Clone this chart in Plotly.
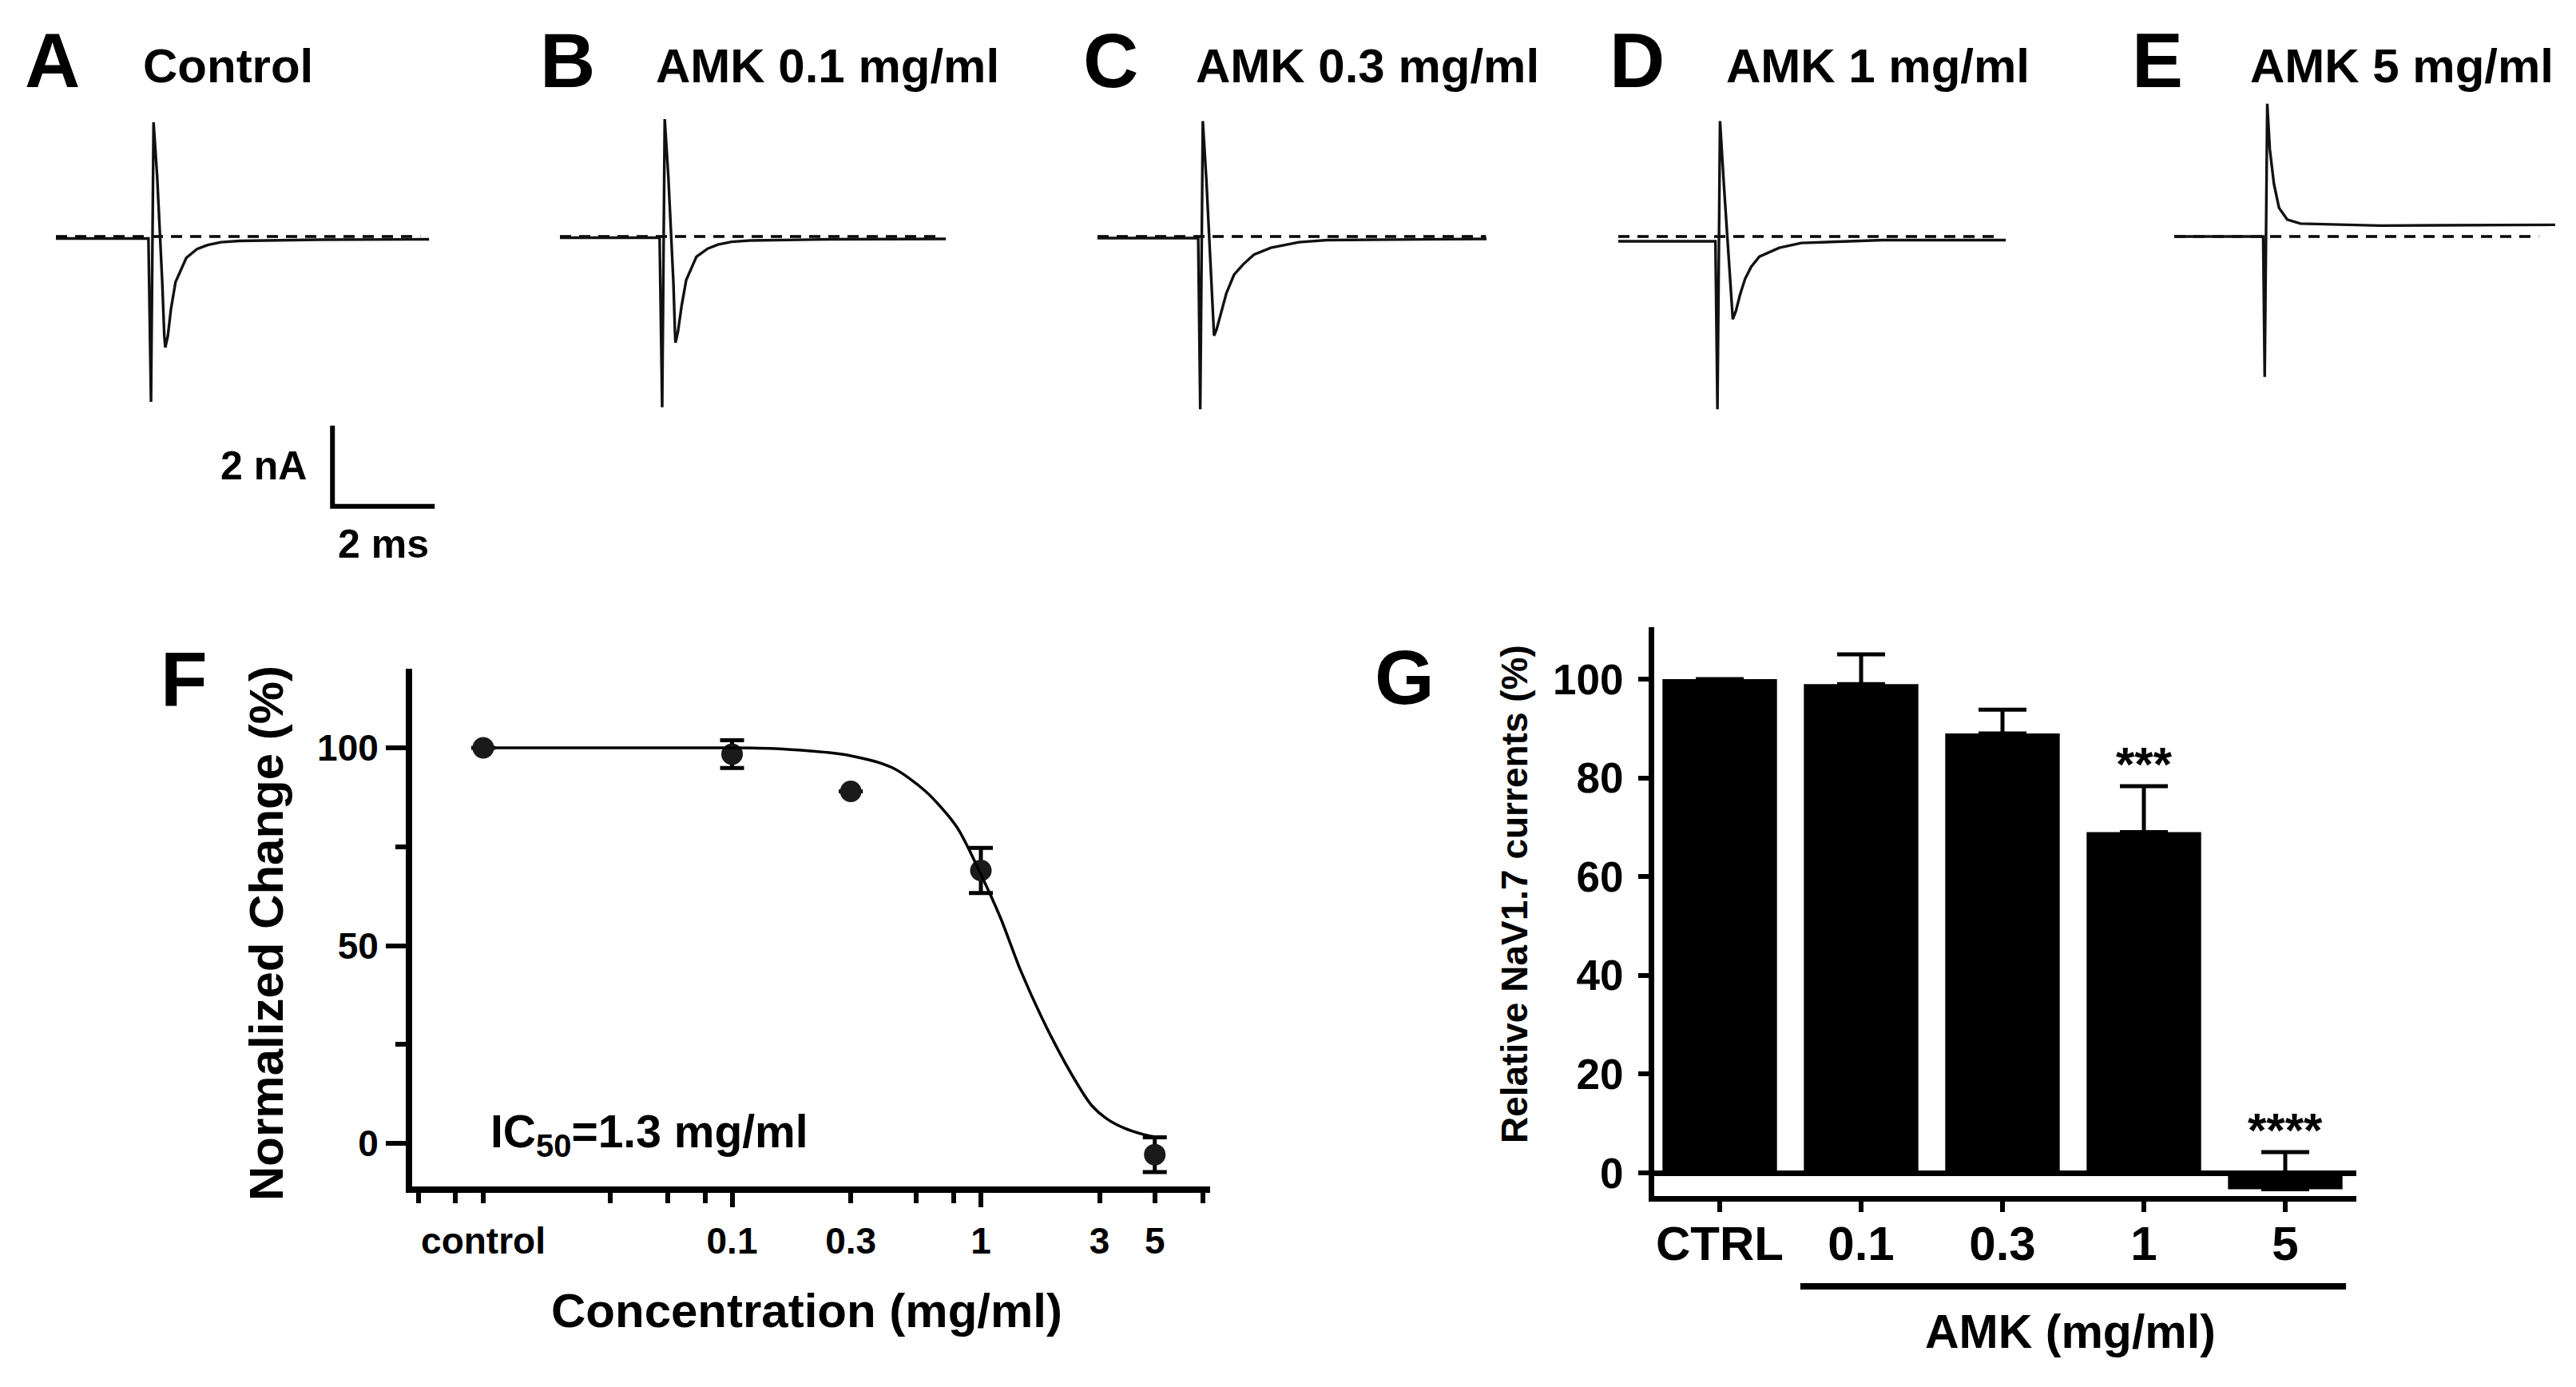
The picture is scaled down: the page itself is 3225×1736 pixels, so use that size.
import plotly.graph_objects as go

W, H = 3225, 1736
FONT = "Liberation Sans, Arial, Helvetica, sans-serif"

# ====================== DATA ======================
panel_letters = ["A", "B", "C", "D", "E"]
panel_titles = ["Control", "AMK 0.1 mg/ml", "AMK 0.3 mg/ml", "AMK 1 mg/ml", "AMK 5 mg/ml"]

# Current traces: time (ms) / current (nA)
trace_A_ms = [0, 1.81, 1.86, 1.91, 1.98, 2.04, 2.08, 2.12, 2.14, 2.19, 2.25, 2.34, 2.55, 2.76, 2.97, 3.23, 3.59, 5.16, 7.30]
trace_A_nA = [-0.05, -0.05, -4.10, 2.83, 1.50, 0.0, -1.13, -2.46, -2.75, -2.46, -1.80, -1.13, -0.53, -0.31, -0.21, -0.14, -0.11, -0.08, -0.07]

trace_B_ms = [0, 1.95, 2.00, 2.05, 2.12, 2.18, 2.22, 2.25, 2.26, 2.31, 2.38, 2.47, 2.67, 2.89, 3.09, 3.36, 3.72, 5.28, 7.55]
trace_B_nA = [-0.03, -0.03, -4.23, 2.91, 1.50, 0.0, -1.15, -2.35, -2.63, -2.35, -1.72, -1.08, -0.50, -0.30, -0.20, -0.13, -0.10, -0.07, -0.06]

trace_C_ms = [0, 1.97, 2.01, 2.06, 2.13, 2.18, 2.23, 2.26, 2.28, 2.33, 2.41, 2.52, 2.67, 2.85, 3.06, 3.39, 3.94, 4.49, 7.61]
trace_C_nA = [-0.04, -0.04, -4.28, 2.86, 1.40, 0.0, -1.30, -2.20, -2.46, -2.30, -1.90, -1.41, -0.95, -0.69, -0.45, -0.28, -0.14, -0.09, -0.06]

trace_D_ms = [0, 1.90, 1.94, 1.99, 2.07, 2.13, 2.19, 2.24, 2.30, 2.38, 2.48, 2.60, 2.76, 3.15, 3.58, 5.18, 7.58]
trace_D_nA = [-0.12, -0.12, -4.28, 2.86, 1.20, 0.0, -1.30, -2.05, -1.85, -1.45, -1.05, -0.75, -0.50, -0.28, -0.16, -0.09, -0.09]

trace_E_ms = [0, 1.74, 1.77, 1.82, 1.87, 1.95, 2.05, 2.21, 2.47, 4.03, 7.45]
trace_E_nA = [0.0, 0.0, -3.48, 3.29, 2.16, 1.31, 0.71, 0.42, 0.32, 0.27, 0.29]

baseline_end_ms = [7.13, 7.48, 7.60, 7.42, 7.13]
scale_bar_nA = 2
scale_bar_ms = 2

# Panel F: concentration-response
conc_tick_vals = [0.01, 0.1, 0.3, 1, 3, 5]
conc_tick_text = ["control", "0.1", "0.3", "1", "3", "5"]
conc_F = [0.01, 0.1, 0.3, 1, 5]
norm_F = [100, 98.4, 89, 69, -2.8]
sem_F = [0, 3.5, 0, 5.7, 4.4]
fit_conc = [0.011, 0.02, 0.05, 0.1, 0.16, 0.3, 0.44, 0.6, 0.8, 1.0, 1.2, 1.45, 1.9, 2.5, 2.8, 3.2, 3.8, 4.5, 5.2]
fit_norm = [100, 100, 100, 100, 99.7, 98, 95, 89, 80, 68, 57, 43.5, 27.5, 14, 9.5, 6.3, 3.8, 2.3, 1.5]
ic50_label = "IC<sub>50</sub>=1.3 mg/ml"

# Panel G: relative currents
cats_G = ["CTRL", "0.1", "0.3", "1", "5"]
rel_G = [100, 99, 89, 69, -3.3]
sem_G = [0, 6, 4.8, 9.3, 7.5]
sig_G = ["", "", "", "***", "****"]

# ====================== LAYOUT HELPERS ======================
def xp(px):
    return px / W

def yp(py):
    return 1 - py / H

def keys(n):
    s = "" if n == 1 else str(n)
    return "xaxis" + s, "yaxis" + s, "x" + s, "y" + s

def bold(size):
    return dict(family=FONT, size=size, color="black", weight="bold")

fig = go.Figure()
lay = {}
ann = []

# ---------- panels A-E ----------
traces_ms = [trace_A_ms, trace_B_ms, trace_C_ms, trace_D_ms, trace_E_ms]
traces_nA = [trace_A_nA, trace_B_nA, trace_C_nA, trace_D_nA, trace_E_nA]
start_px = [70, 701, 1374, 2026, 2722]
letter_px = [29, 674, 1354, 2013, 2667]
title_px = [177, 819, 1495, 2159, 2815]
PX_MS, PX_NA, BASE_PX = 64.0, 50.5, 296.0
TOP_PX, BOT_PX, PANEL_W = 120.0, 650.0, 500.0

for k in range(5):
    xk, yk, xr, yr = keys(k + 1)
    s = start_px[k]
    lay[xk] = dict(domain=[xp(s), xp(s + PANEL_W)], range=[0, PANEL_W / PX_MS],
                   visible=False, anchor=yr, fixedrange=True)
    lay[yk] = dict(domain=[yp(BOT_PX), yp(TOP_PX)],
                   range=[-(BOT_PX - BASE_PX) / PX_NA, (BASE_PX - TOP_PX) / PX_NA],
                   visible=False, anchor=xr, fixedrange=True)
    fig.add_trace(go.Scatter(x=[0, baseline_end_ms[k]], y=[0, 0], mode="lines",
                             line=dict(color="black", width=3.5, dash="14px,10px"),
                             xaxis=xr, yaxis=yr, showlegend=False, hoverinfo="skip"))
    fig.add_trace(go.Scatter(x=traces_ms[k], y=traces_nA[k], mode="lines",
                             line=dict(color="#111111", width=3.4),
                             xaxis=xr, yaxis=yr, showlegend=False))
    ann.append(dict(text=panel_letters[k], x=xp(letter_px[k]), y=yp(75.5), xref="paper", yref="paper",
                    xanchor="left", yanchor="middle", showarrow=False, font=bold(96)))
    ann.append(dict(text=panel_titles[k], x=xp(title_px[k]), y=yp(82.5), xref="paper", yref="paper",
                    xanchor="left", yanchor="middle", showarrow=False, font=bold(60)))

# scale bar in panel A
sb_t0, sb_i0 = 5.41, -6.69
fig.add_trace(go.Scatter(x=[sb_t0, sb_t0, sb_t0 + scale_bar_ms],
                         y=[sb_i0 + scale_bar_nA, sb_i0, sb_i0], mode="lines",
                         line=dict(color="black", width=6), xaxis="x", yaxis="y",
                         showlegend=False, hoverinfo="skip"))
ann.append(dict(text=f"{scale_bar_nA} nA", x=xp(386), y=yp(583), xref="paper", yref="paper",
                xanchor="right", yanchor="middle", showarrow=False, font=bold(50)))
ann.append(dict(text=f"{scale_bar_ms} ms", x=xp(480), y=yp(681), xref="paper", yref="paper",
                xanchor="center", yanchor="middle", showarrow=False, font=bold(50)))

# ---------- panel F ----------
F_L, F_R, F_T, F_B = 516.0, 1515.0, 837.0, 1485.0
DEC = 311.5
fx_range = [-1 - (916.5 - F_L) / DEC, (F_R - 1228.0) / DEC]
PX_PCT_F = 4.953
fy_range = [-(F_B - 1431.3) / PX_PCT_F, (1431.3 - F_T) / PX_PCT_F]

lay["xaxis6"] = dict(domain=[xp(F_L), xp(F_R)], type="log", range=fx_range, anchor="y6",
                     showline=True, linewidth=8, linecolor="black", mirror=False,
                     ticks="outside", ticklen=13, tickwidth=6, tickcolor="black",
                     tickmode="array", tickvals=conc_tick_vals, ticktext=conc_tick_text,
                     tickfont=bold(46), ticklabelstandoff=8,
                     minor=dict(tickmode="array", tickvals=[0.0055, 0.0077, 0.0325, 0.055, 0.078, 0.55, 0.78, 7.8],
                                ticks="outside", ticklen=13, tickwidth=6, tickcolor="black", showgrid=False),
                     showgrid=False, zeroline=False, fixedrange=True)
lay["xaxis8"] = dict(type="log", range=fx_range, anchor="y6", overlaying="x6",
                     showline=False, ticks="outside", ticklen=25, tickwidth=6, tickcolor="black",
                     tickmode="array", tickvals=[0.1, 1], showticklabels=False,
                     showgrid=False, zeroline=False, fixedrange=True)
lay["yaxis6"] = dict(domain=[yp(F_B), yp(F_T)], range=fy_range, anchor="x6",
                     showline=True, linewidth=8, linecolor="black",
                     ticks="outside", ticklen=25, tickwidth=6, tickcolor="black",
                     tickmode="array", tickvals=[0, 50, 100], ticktext=["0", "50", "100"],
                     tickfont=bold(46),
                     minor=dict(tickmode="array", tickvals=[25, 75], ticks="outside", ticklen=13,
                                tickwidth=6, tickcolor="black", showgrid=False),
                     showgrid=False, zeroline=False, fixedrange=True)

fig.add_trace(go.Scatter(x=fit_conc, y=fit_norm, mode="lines",
                         line=dict(color="black", width=3.5, shape="spline", smoothing=0.8),
                         xaxis="x8", yaxis="y6", showlegend=False))
fig.add_trace(go.Scatter(x=conc_F, y=norm_F, mode="markers",
                         marker=dict(color="#1a1a1a", size=27, line=dict(width=0)),
                         error_y=dict(type="data", array=sem_F, visible=True, thickness=5,
                                      width=15, color="black"),
                         xaxis="x6", yaxis="y6", showlegend=False))

ann.append(dict(text="F", x=xp(199), y=yp(849), xref="paper", yref="paper",
                xanchor="left", yanchor="middle", showarrow=False, font=bold(96)))
ann.append(dict(text=ic50_label, x=xp(612), y=yp(1420), xref="paper", yref="paper",
                xanchor="left", yanchor="middle", showarrow=False, font=bold(57)))
ann.append(dict(text="Normalized Change (%)", x=xp(333), y=yp(1168), xref="paper", yref="paper",
                xanchor="center", yanchor="middle", textangle=-90, showarrow=False, font=bold(60)))
ann.append(dict(text="Concentration (mg/ml)", x=xp(1010), y=yp(1640), xref="paper", yref="paper",
                xanchor="center", yanchor="middle", showarrow=False, font=bold(60)))

# ---------- panel G ----------
G_L, G_R, G_T, G_B = 2071.0, 2950.0, 785.0, 1497.0
CAT0_PX, CAT_STEP = 2153.0, 177.0
PX_PCT_G = 6.18
gx_range = [(G_L - CAT0_PX) / CAT_STEP, (G_R - CAT0_PX) / CAT_STEP]
gy_range = [-(G_B - 1468.0) / PX_PCT_G, (1468.0 - G_T) / PX_PCT_G]

lay["xaxis7"] = dict(domain=[xp(G_L), xp(G_R)], type="category", range=gx_range, anchor="y7",
                     showline=True, linewidth=7, linecolor="black",
                     ticks="outside", ticklen=13, tickwidth=6, tickcolor="black",
                     tickfont=bold(60), ticklabelstandoff=-12,
                     showgrid=False, zeroline=False, fixedrange=True)
lay["yaxis7"] = dict(domain=[yp(G_B), yp(G_T)], range=gy_range, anchor="x7",
                     showline=True, linewidth=7, linecolor="black",
                     ticks="outside", ticklen=13, tickwidth=6, tickcolor="black",
                     tickmode="array", tickvals=[0, 20, 40, 60, 80, 100], tickfont=bold(53),
                     ticklabelstandoff=8,
                     showgrid=False, zeroline=True, zerolinecolor="black", zerolinewidth=7,
                     fixedrange=True)

fig.add_trace(go.Bar(x=cats_G, y=rel_G, width=0.81, marker=dict(color="black", line=dict(width=0)),
                     error_y=dict(type="data", symmetric=False, array=sem_G, arrayminus=[0] * len(sem_G),
                                  thickness=5, width=30, color="black"),
                     xaxis="x7", yaxis="y7", showlegend=False))

for i, (v, e, s) in enumerate(zip(rel_G, sem_G, sig_G)):
    if s:
        ann.append(dict(text=s, x=i, y=v + e, xref="x7", yref="y7", xanchor="center",
                        yanchor="bottom", yshift=-8, showarrow=False, font=bold(60)))

ann.append(dict(text="G", x=xp(1719), y=yp(847), xref="paper", yref="paper",
                xanchor="left", yanchor="middle", showarrow=False, font=bold(96)))
ann.append(dict(text="Relative NaV1.7 currents (%)", x=xp(1896), y=yp(1119), xref="paper", yref="paper",
                xanchor="center", yanchor="middle", textangle=-90, showarrow=False, font=bold(46)))
ann.append(dict(text="AMK (mg/ml)", x=xp(2592), y=yp(1667), xref="paper", yref="paper",
                xanchor="center", yanchor="middle", showarrow=False, font=bold(59)))

shapes = [dict(type="line", xref="x7", yref="paper", x0=1 - 0.43, x1=4 + 0.43,
               y0=yp(1610), y1=yp(1610), line=dict(color="black", width=8))]

fig.update_layout(width=W, height=H, margin=dict(l=0, r=0, t=0, b=0),
                  paper_bgcolor="white", plot_bgcolor="white",
                  font=dict(family=FONT, color="black"),
                  annotations=ann, shapes=shapes, showlegend=False, **lay)

fig.write_html("out.html", config={"displayModeBar": False, "staticPlot": True},
               post_script="document.body.style.margin='0px';document.body.style.overflow='hidden';")
